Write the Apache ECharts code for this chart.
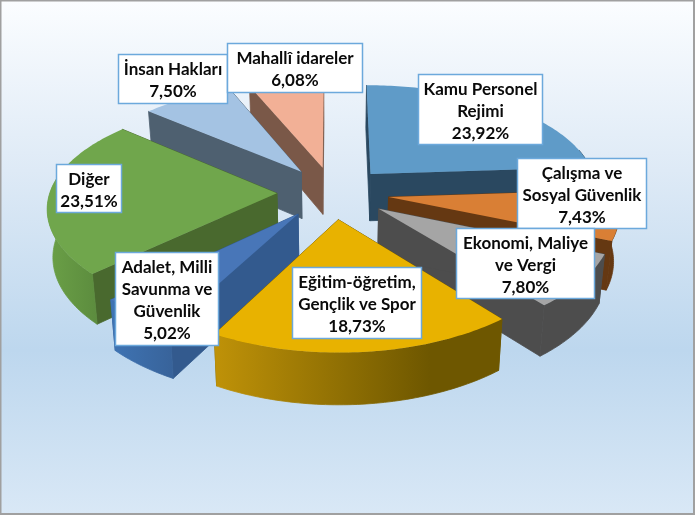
<!DOCTYPE html>
<html>
<head>
<meta charset="utf-8">
<style>html,body{margin:0;padding:0;background:#fff}#c{width:695px;height:515px}</style>
<script src="https://cdn.jsdelivr.net/npm/echarts@6/dist/echarts.min.js"></script>
</head>
<body>
<div id="c"></div>
<script>
var categories = ['Kamu Personel\nRejimi','Çalışma ve\nSosyal Güvenlik','Ekonomi, Maliye\nve Vergi','Eğitim-öğretim,\nGençlik ve Spor','Adalet, Milli\nSavunma ve\nGüvenlik','Diğer','İnsan Hakları','Mahallî idareler'];
var shares = [23.92,7.43,7.80,18.73,5.02,23.51,7.50,6.08];
var topColors = ['#5F9BC8','#D97F35','#A5A5A5','#E8B200','#4876B8','#70A64C','#A4C3E3','#F2B096'];
var wallColors = ['#2A4860','#653812','#4D4D4D','#6E5700','#335A8E','#49692E','#4E6070','#7A5848'];
var arcFrom = ['#2A4860','#653812','#4D4D4D','#BF9208','#3F74B4','#6BA047','#4E6070','#7A5848'];
var arcTo = ['#2A4860','#653812','#4D4D4D','#6E5700','#38639A','#5C8C3E','#4E6070','#7A5848'];
var drawOrder = [7,6,0,5,1,2,4,3];
var labelBoxes = [[418,74,124,70],[517,158,129,70],[456,228,138,70],[292,267,129,71],[115,252,103,93],[56,164,65,48],[118,54,109,49],[227,43,135,49]];

var view = {cx:333, cy:192.6, rx:227, ry:106, kx:0.12, ky:0.14, explode:0.247, depth:47.5};
function proj(u,v){
  return [view.cx+view.rx*u/(1-view.kx*v), view.cy+view.ry*v/(1-view.ky*v)];
}
function lower(p,v){
  return [p[0]-(p[0]-view.cx)*0.02, p[1]+view.depth*(1+0.08*v)];
}
var total = shares.reduce(function(a,b){return a+b;},0);
var startAngles = [];
shares.reduce(function(acc,s,i){startAngles[i]=acc;return acc+s/total*360;},0);

function solid(pts,c){return {type:'polygon',shape:{points:pts},style:{fill:c,stroke:c,lineWidth:0.8}};}
function buildSlice(i){
  var a0=startAngles[i], a1=a0+shares[i]/total*360, mid=(a0+a1)/2*Math.PI/180;
  var ou=view.explode*Math.sin(mid), ov=-view.explode*Math.cos(mid);
  function uv(deg){var r=deg*Math.PI/180;return [ou+Math.sin(r),ov-Math.cos(r)];}
  var apexT=proj(ou,ov), apexB=lower(apexT,ov);
  var arc=[], arcUV=[];
  for(var d=a0;d<a1;d+=1){arcUV.push(uv(d));arc.push(d);}
  arcUV.push(uv(a1));arc.push(a1);
  var top=[apexT], kids=[];
  arcUV.forEach(function(q){top.push(proj(q[0],q[1]));});
  function wall(q){var t=proj(q[0],q[1]);return [apexT,t,lower(t,q[1]),apexB];}
  kids.push(solid(wall(arcUV[arcUV.length-1]),wallColors[i]));
  kids.push(solid(wall(arcUV[0]),wallColors[i]));
  var upper=[],bottom=[];
  arcUV.forEach(function(q,j){
    if(Math.cos(arc[j]*Math.PI/180)<0.25){
      var t=proj(q[0],q[1]);upper.push(t);bottom.unshift(lower(t,q[1]));
    }
  });
  if(upper.length>1){
    var xs=upper.concat(bottom).map(function(p){return p[0];});
    var x0=Math.min.apply(null,xs),x1=Math.max.apply(null,xs);
    var grad=new echarts.graphic.LinearGradient(x0,0,x1,0,[{offset:0,color:arcFrom[i]},{offset:i===3?0.75:1,color:arcTo[i]},{offset:1,color:arcTo[i]}],true);
    kids.push({type:'polygon',shape:{points:upper.concat(bottom)},style:{fill:grad,stroke:grad,lineWidth:0.8}});
  }
  kids.push({type:'polygon',shape:{points:top},style:{fill:topColors[i]}});
  return {type:'group',children:kids};
}
function pct(v){return v.toFixed(2).replace('.',',')+'%';}
function buildLabel(i){
  var b=labelBoxes[i];
  return {type:'group',children:[
    {type:'rect',shape:{x:b[0]+0.5,y:b[1]+0.5,width:b[2],height:b[3]},style:{fill:'#fff',stroke:'#6CA9DC',lineWidth:1.5}},
    {type:'text',x:b[0]+b[2]/2+0.5,y:b[1]+b[3]/2+2.5,style:{text:categories[i]+'\n'+pct(shares[i]),align:'center',verticalAlign:'middle',font:'bold 17px Lato',lineHeight:22,fill:'#0a0a0a'}}
  ]};
}
var chart=echarts.init(document.getElementById('c'),null,{renderer:'canvas'});
chart.setOption({
  animation:false,
  backgroundColor:{type:'linear',x:0,y:0,x2:0,y2:1,colorStops:[{offset:0,color:'#FBFDFF'},{offset:0.33,color:'#DEEAF6'},{offset:0.68,color:'#BDD7EE'},{offset:1,color:'#D9E8F6'}]},
  graphic:[{type:'rect',z:100,silent:true,shape:{x:0.5,y:0.5,width:693.5,height:513.5},style:{fill:'none',stroke:'#A0A0A0',lineWidth:2}}],
  series:[
    {type:'custom',coordinateSystem:'none',z:2,data:drawOrder.map(function(i){return {name:categories[i],value:[i,shares[i]]};}),
     renderItem:function(p,api){return buildSlice(api.value(0));}},
    {type:'custom',coordinateSystem:'none',z:3,data:shares.map(function(s,i){return {name:categories[i],value:[i,s]};}),
     renderItem:function(p,api){return buildLabel(api.value(0));}}
  ]
});
</script>
</body>
</html>
